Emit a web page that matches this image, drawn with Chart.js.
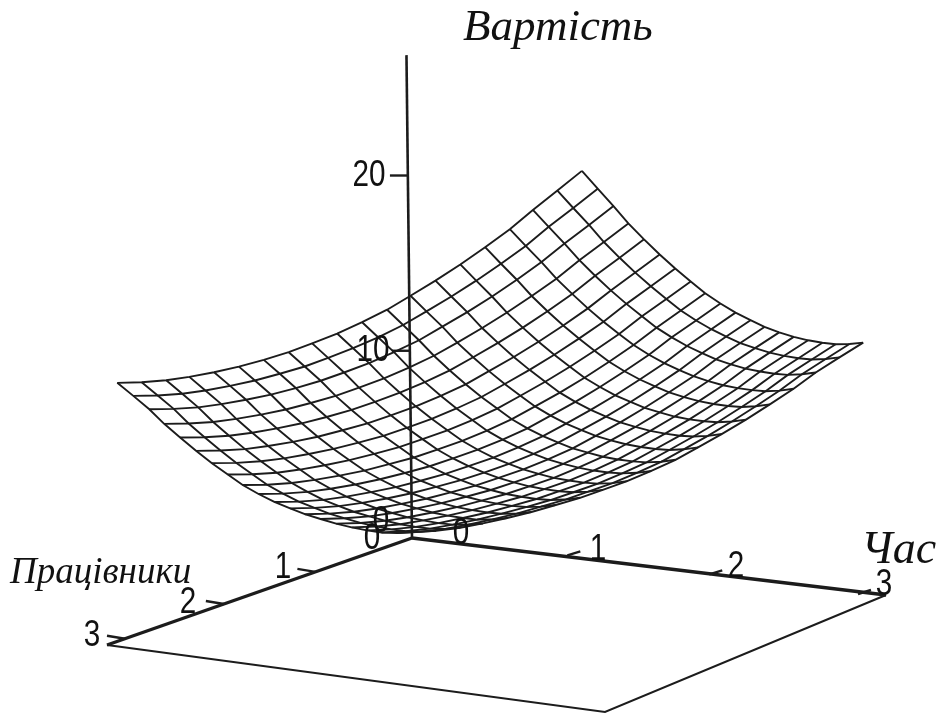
<!DOCTYPE html>
<html>
<head>
<meta charset="utf-8">
<title>Вартість</title>
<script src="https://cdn.jsdelivr.net/npm/chart.js@4"></script>
<style>
    html, body { margin: 0; padding: 0; background: #fff; }
    canvas { display: block; }
</style>
</head>
<body>
<canvas id="surface" width="939" height="714"></canvas>
<script>
const axisNames = ['Вартість', 'Час', 'Працівники'];
const costTicks = [0, 10, 20];
const timeTicks = [0, 1, 2, 3];
const workerTicks = [0, 1, 2, 3];
const costAxisTop = 27.8;

const gridTime = [0, 0.16, 0.32, 0.47, 0.63, 0.79, 0.95, 1.11, 1.26, 1.42, 1.58, 1.74, 1.89, 2.05, 2.21, 2.37, 2.53, 2.68, 2.84, 3];
const gridWorkers = [0, 0.16, 0.32, 0.47, 0.63, 0.79, 0.95, 1.11, 1.26, 1.42, 1.58, 1.74, 1.89, 2.05, 2.21, 2.37, 2.53, 2.68, 2.84, 3];

// cost at each (workers row, time column)
const cost = [
    [0.30, 0.54, 0.85, 1.22, 1.66, 2.13, 2.65, 3.18, 3.74, 4.35, 5.04, 5.78, 6.58, 7.44, 8.35, 9.31, 10.29, 11.30, 12.26, 13.20],
    [0.54, 0.77, 1.07, 1.43, 1.86, 2.32, 2.84, 3.36, 3.92, 4.52, 5.21, 5.94, 6.74, 7.60, 8.51, 9.47, 10.45, 11.46, 12.42, 13.37],
    [0.85, 1.07, 1.36, 1.71, 2.13, 2.59, 3.09, 3.61, 4.16, 4.76, 5.45, 6.18, 6.97, 7.83, 8.73, 9.69, 10.67, 11.68, 12.65, 13.61],
    [1.22, 1.43, 1.71, 2.05, 2.47, 2.91, 3.41, 3.92, 4.47, 5.07, 5.75, 6.48, 7.27, 8.12, 9.03, 9.98, 10.97, 11.98, 12.95, 13.92],
    [1.66, 1.86, 2.13, 2.47, 2.87, 3.31, 3.80, 4.31, 4.85, 5.45, 6.12, 6.85, 7.64, 8.49, 9.39, 10.35, 11.33, 12.35, 13.33, 14.30],
    [2.13, 2.32, 2.59, 2.91, 3.31, 3.74, 4.23, 4.73, 5.27, 5.86, 6.54, 7.26, 8.05, 8.90, 9.80, 10.76, 11.74, 12.76, 13.75, 14.73],
    [2.65, 2.84, 3.09, 3.41, 3.80, 4.23, 4.71, 5.21, 5.75, 6.34, 7.01, 7.74, 8.52, 9.37, 10.28, 11.23, 12.22, 13.24, 14.24, 15.22],
    [3.18, 3.36, 3.61, 3.92, 4.31, 4.73, 5.21, 5.71, 6.25, 6.84, 7.51, 8.23, 9.02, 9.87, 10.78, 11.74, 12.73, 13.76, 14.76, 15.76],
    [3.74, 3.92, 4.16, 4.47, 4.85, 5.27, 5.75, 6.25, 6.78, 7.38, 8.05, 8.78, 9.57, 10.42, 11.33, 12.29, 13.29, 14.32, 15.34, 16.35],
    [4.35, 4.52, 4.76, 5.07, 5.45, 5.86, 6.34, 6.84, 7.38, 7.97, 8.65, 9.38, 10.17, 11.03, 11.94, 12.91, 13.91, 14.95, 15.98, 17.00],
    [5.04, 5.21, 5.45, 5.75, 6.12, 6.54, 7.01, 7.51, 8.05, 8.65, 9.32, 10.05, 10.85, 11.71, 12.63, 13.60, 14.61, 15.66, 16.69, 17.73],
    [5.78, 5.94, 6.18, 6.48, 6.85, 7.26, 7.74, 8.23, 8.78, 9.38, 10.05, 10.79, 11.59, 12.45, 13.37, 14.35, 15.37, 16.42, 17.47, 18.52],
    [6.58, 6.74, 6.97, 7.27, 7.64, 8.05, 8.52, 9.02, 9.57, 10.17, 10.85, 11.59, 12.39, 13.26, 14.19, 15.17, 16.19, 17.26, 18.31, 19.38],
    [7.44, 7.60, 7.83, 8.12, 8.49, 8.90, 9.37, 9.87, 10.42, 11.03, 11.71, 12.45, 13.26, 14.14, 15.07, 16.06, 17.09, 18.16, 19.23, 20.31],
    [8.35, 8.51, 8.73, 9.03, 9.39, 9.80, 10.28, 10.78, 11.33, 11.94, 12.63, 13.37, 14.19, 15.07, 16.01, 17.00, 18.04, 19.12, 20.20, 21.30],
    [9.31, 9.47, 9.69, 9.98, 10.35, 10.76, 11.23, 11.74, 12.29, 12.91, 13.60, 14.35, 15.17, 16.06, 17.00, 18.00, 19.05, 20.14, 21.23, 22.35],
    [10.29, 10.45, 10.67, 10.97, 11.33, 11.74, 12.22, 12.73, 13.29, 13.91, 14.61, 15.37, 16.19, 17.09, 18.04, 19.05, 20.10, 21.21, 22.31, 23.44],
    [11.30, 11.46, 11.68, 11.98, 12.35, 12.76, 13.24, 13.76, 14.32, 14.95, 15.66, 16.42, 17.26, 18.16, 19.12, 20.14, 21.21, 22.32, 23.45, 24.59],
    [12.26, 12.42, 12.65, 12.95, 13.33, 13.75, 14.24, 14.76, 15.34, 15.98, 16.69, 17.47, 18.31, 19.23, 20.20, 21.23, 22.31, 23.45, 24.59, 25.76],
    [13.20, 13.37, 13.61, 13.92, 14.30, 14.73, 15.22, 15.76, 16.35, 17.00, 17.73, 18.52, 19.38, 20.31, 21.30, 22.35, 23.44, 24.59, 25.76, 26.95]
];

// perspective camera, fitted to the floor corners and the vertical axis
function project(time, workers, value) {
    const a = time / 3;
    const b = workers / 3;
    const k = 0.003184;
    const s = 1 - 0.04374 * a - 0.07287 * b + k * value;
    return {
        x: (412 + 435.25 * a - 312.8 * b + 344 * k * value) / s,
        y: (538 + 30.98 * a + 60 * b - 5400 * k * value) / s,
    };
}

function lineSet(data, width) {
    return {
        data,
        showLine: true,
        borderColor: '#1c1c1c',
        borderWidth: width,
        pointRadius: 0,
        tension: 0,
        clip: false,
    };
}

const datasets = [];

// mesh
gridWorkers.forEach((w, row) => {
    datasets.push(lineSet(gridTime.map((t, col) => project(t, w, cost[row][col])), 1.9));
});
gridTime.forEach((t, col) => {
    datasets.push(lineSet(gridWorkers.map((w, row) => project(t, w, cost[row][col])), 1.9));
});

// axes and floor
datasets.push(lineSet([project(0, 0, 0), project(0, 0, costAxisTop)], 2.6));
datasets.push(lineSet([project(0, 0, 0), project(3, 0, 0)], 3.4));
datasets.push(lineSet([project(0, 0, 0), project(0, 3, 0)], 3.4));
datasets.push(lineSet([project(3, 0, 0), project(3, 3, 0), project(0, 3, 0)], 2));

// axis ticks, the picture has them a little off the nominal axis positions
const tickShift = { cost: [0, -4, -7], time: [0, 8, -8, -22], workers: [0, 0, 10, 18] };
costTicks.slice(1).forEach((v, i) => {
    const p = project(0, 0, v);
    const y = p.y + tickShift.cost[i + 1];
    datasets.push(lineSet([{ x: p.x, y }, { x: p.x - 18, y }], 2.4));
});
timeTicks.slice(1).forEach((v, i) => {
    const p = project(v, 0, 0);
    const x = p.x + tickShift.time[i + 1];
    datasets.push(lineSet([{ x: x - 6, y: p.y - 1 }, { x: x + 7, y: p.y - 5 }], 2.4));
});
workerTicks.slice(1).forEach((v, i) => {
    const p = project(0, v, 0);
    const x = p.x + tickShift.workers[i + 1];
    const y = p.y - tickShift.workers[i + 1] * 0.35;
    datasets.push(lineSet([{ x: x - 18, y: y - 3 }, { x, y }], 2.4));
});

const labelsPlugin = {
    id: 'surfaceLabels',
    afterDatasetsDraw(chart) {
        const { ctx, scales } = chart;
        const put = (text, x, y, font, maxWidth) => {
            ctx.font = font;
            ctx.fillText(text, scales.x.getPixelForValue(x), scales.y.getPixelForValue(y), maxWidth);
        };
        ctx.save();
        ctx.fillStyle = '#111';
        ctx.textBaseline = 'alphabetic';

        ctx.textAlign = 'left';
        const nameFont = (size) => `italic ${size}px "Liberation Serif"`;
        put(axisNames[0], 463, 40, nameFont(45));
        put(axisNames[1], 861, 563, nameFont(46));
        put(axisNames[2], 10, 583, nameFont(37));

        const tickFont = '36px "Liberation Sans"';
        const tick = (value, x, y) => put(String(value), x, y, tickFont, String(value).length * 16.5);
        ctx.textAlign = 'center';
        tick(costTicks[2], 369, 186);
        tick(costTicks[1], 373, 361);
        tick(costTicks[0], 381, 532);
        tick(timeTicks[0], 461, 544);
        tick(timeTicks[1], 598, 560);
        tick(timeTicks[2], 736, 577);
        tick(timeTicks[3], 884, 595);
        tick(workerTicks[0], 372, 549);
        tick(workerTicks[1], 283, 578);
        tick(workerTicks[2], 188, 613);
        tick(workerTicks[3], 92, 646);
        ctx.restore();
    },
};

new Chart(document.getElementById('surface'), {
    type: 'scatter',
    data: { datasets },
    plugins: [labelsPlugin],
    options: {
        responsive: false,
        animation: false,
        layout: { padding: 0 },
        plugins: { legend: { display: false }, tooltip: { enabled: false } },
        scales: {
            x: { type: 'linear', display: false, min: 0, max: 939 },
            y: { type: 'linear', display: false, min: 0, max: 714, reverse: true },
        },
    },
});
</script>
</body>
</html>
